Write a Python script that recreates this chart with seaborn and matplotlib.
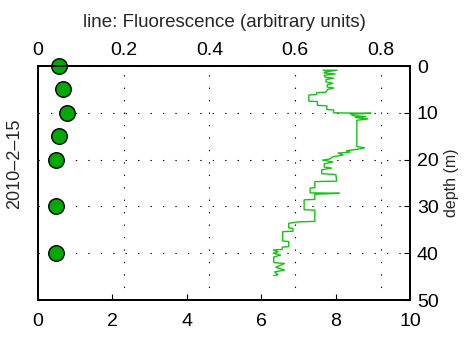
import matplotlib
matplotlib.use("Agg")
import matplotlib.pyplot as plt
import seaborn as sns

# Discrete samples (bottom axis) at fixed depths
sample_depth = [0, 5, 10, 15, 20, 30, 40]
sample_value = [0.57, 0.68, 0.79, 0.57, 0.48, 0.48, 0.48]

# Fluorescence profile (top axis) versus depth
profile_depth = [
    0.9, 0.9, 1.3, 1.5, 1.7, 2.0, 2.4, 2.6, 2.9, 3.4, 3.7, 4.0, 4.5, 4.7, 5.0,
    5.6, 5.7, 6.1, 6.2, 7.5, 7.6, 8.4, 8.5, 9.3, 9.4, 10.0, 10.1, 10.3, 10.6,
    10.8, 11.0, 11.3, 11.6, 17.2, 17.5, 17.8, 18.1, 18.4, 18.6, 19.0, 19.4,
    19.9, 20.1, 20.5, 20.9, 21.6, 21.8, 22.2, 23.0, 23.2, 24.6, 24.7, 26.0,
    26.1, 27.1, 27.2, 27.4, 28.5, 28.6, 30.7, 30.8, 33.2, 33.3, 33.6, 34.6,
    34.7, 35.3, 35.4, 37.4, 37.5, 38.6, 38.7, 39.2, 39.3, 39.7, 40.0, 40.4,
    40.8, 42.0, 42.2, 43.0, 43.6, 44.0, 44.6, 44.8,
]
profile_fluor = [
    0.665, 0.698, 0.668, 0.668, 0.693, 0.668, 0.670, 0.690, 0.672, 0.672,
    0.688, 0.675, 0.675, 0.690, 0.676, 0.672, 0.650, 0.650, 0.632, 0.632,
    0.652, 0.652, 0.674, 0.674, 0.690, 0.690, 0.777, 0.730, 0.735, 0.765,
    0.740, 0.770, 0.744, 0.744, 0.762, 0.745, 0.720, 0.728, 0.700, 0.712,
    0.688, 0.680, 0.664, 0.688, 0.668, 0.668, 0.685, 0.662, 0.662, 0.695,
    0.697, 0.646, 0.646, 0.635, 0.635, 0.703, 0.646, 0.646, 0.621, 0.621,
    0.646, 0.646, 0.610, 0.585, 0.585, 0.595, 0.595, 0.571, 0.571, 0.585,
    0.585, 0.570, 0.570, 0.549, 0.560, 0.549, 0.566, 0.550, 0.550, 0.575,
    0.555, 0.575, 0.552, 0.560, 0.550,
]

bottom_ticks = [0, 2, 4, 6, 8, 10]
top_ticks = [0, 0.2, 0.4, 0.6, 0.8]
top_labels = ["0", "0.2", "0.4", "0.6", "0.8"]
depth_ticks = [0, 10, 20, 30, 40, 50]

GRID_STYLE = dict(color="black", linewidth=0.8, linestyle=(0, (1.2, 10)))

sns.set_theme(style="white")
plt.rcParams["font.family"] = ["Liberation Sans", "DejaVu Sans"]

fig = plt.figure(figsize=(4.7, 3.38), dpi=100)
ax = fig.add_axes([0.0809, 0.1124, 0.8723 - 0.0809, 0.8047 - 0.1124])

# Sample markers on the bottom axis
sns.scatterplot(x=sample_value, y=sample_depth, ax=ax, s=125,
                color="#00a800", edgecolor="black", linewidth=1.0,
                zorder=3, clip_on=False, legend=False)
ax.set_xlim(0, 10)
ax.set_ylim(50, 0)
ax.set_xticks(bottom_ticks)
ax.set_yticks(depth_ticks)
ax.yaxis.tick_right()
ax.yaxis.set_label_position("right")
ax.tick_params(axis="x", which="both", direction="in", length=4, width=0.8,
               top=True, bottom=True, labelsize=14, pad=9, colors="black")
ax.tick_params(axis="y", which="both", direction="in", length=4, width=0.8,
               left=False, right=True, labelsize=14, pad=5, colors="black")
ax.set_ylabel("depth (m)", fontsize=11.5, labelpad=4)
ax.set_xlabel("")
ax.grid(False)
ax.yaxis.grid(True, **GRID_STYLE)
ax.set_axisbelow(True)
for sp in ax.spines.values():
    sp.set_visible(True)
    sp.set_color("black")
    sp.set_linewidth(1.3)

# Left label
fig.text(0.032, 0.515, "2010\u20132\u201315", rotation=90, fontsize=13,
         ha="center", va="center")

# Fluorescence profile on the top axis
ax2 = ax.twiny()
sns.lineplot(x=profile_fluor, y=profile_depth, ax=ax2, sort=False,
             estimator=None, color="#14c214", linewidth=1.0, zorder=2)
ax2.set_xlim(0, 0.868)
ax2.set_ylim(50, 0)
ax2.set_xticks(top_ticks)
ax2.set_xticklabels(top_labels)
ax2.tick_params(axis="x", direction="in", length=0, labelsize=14, pad=5,
                colors="black")
ax2.set_ylabel("")
ax2.grid(False)
ax2.xaxis.grid(True, **GRID_STYLE)
ax2.set_title("line: Fluorescence (arbitrary units)", fontsize=13.5, pad=28)
for sp in ax2.spines.values():
    sp.set_visible(True)
    sp.set_color("black")
    sp.set_linewidth(1.3)

fig.savefig("out.png", dpi=100)
